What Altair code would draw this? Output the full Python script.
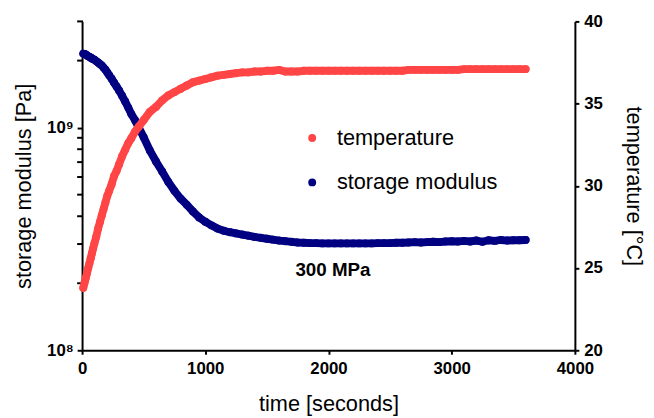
import altair as alt
import pandas as pd

RED = "#FF4545"
BLUE = "#000080"
FONT = "Liberation Sans"

time_s = [10, 20, 30, 40, 50, 60, 70, 80, 90, 100, 115, 130, 145, 160, 175, 190, 205, 220,
          240, 260, 280, 300, 325, 350, 375, 400, 430, 460, 500, 550, 600, 650, 700, 750,
          800, 850, 900, 950, 1000, 1050, 1100, 1150, 1200, 1250, 1300, 1350, 1400, 1450,
          1500, 1550, 1600, 1650, 1700, 1750, 1800, 1850, 1900, 1950, 2000, 2050, 2100,
          2150, 2200, 2250, 2300, 2350, 2400, 2450, 2500, 2550, 2600, 2650, 2700, 2750,
          2800, 2850, 2900, 2950, 3000, 3050, 3100, 3150, 3200, 3250, 3300, 3350, 3400,
          3450, 3500, 3550, 3600]

temperature_c = [23.8, 24.1, 24.4, 24.7, 25.0, 25.3, 25.6, 25.9, 26.2, 26.5, 26.9, 27.4, 27.8,
                 28.2, 28.6, 29.0, 29.4, 29.7, 30.1, 30.6, 30.9, 31.3, 31.8, 32.2, 32.6, 32.9,
                 33.3, 33.6, 34.0, 34.5, 34.8, 35.2, 35.5, 35.7, 35.9, 36.1, 36.3, 36.4, 36.5,
                 36.6, 36.7, 36.75, 36.8, 36.85, 36.9, 36.9, 36.95, 36.95, 37.0, 37.0, 37.05,
                 36.95, 36.95, 36.95, 37.0, 37.0, 37.0, 37.0, 37.0, 37.0, 37.0, 37.0, 37.0,
                 37.0, 37.0, 37.0, 37.0, 37.0, 37.0, 37.0, 37.0, 37.05, 37.05, 37.05, 37.05,
                 37.05, 37.05, 37.05, 37.05, 37.05, 37.1, 37.1, 37.1, 37.1, 37.1, 37.1, 37.1,
                 37.1, 37.1, 37.1, 37.1]

# storage modulus in units of 1e8 Pa
storage_e8 = [21.5, 21.4, 21.3, 21.1, 20.9, 20.8, 20.6, 20.5, 20.3, 20.2, 19.9, 19.6, 19.3,
              19.0, 18.6, 18.2, 17.7, 17.2, 16.6, 15.9, 15.3, 14.7, 13.9, 13.1, 12.3, 11.5,
              10.8, 10.0, 9.05, 7.9, 7.05, 6.35, 5.7, 5.2, 4.8, 4.5, 4.2, 3.95, 3.78, 3.64,
              3.52, 3.44, 3.39, 3.35, 3.31, 3.27, 3.23, 3.2, 3.17, 3.14, 3.11, 3.09, 3.07,
              3.05, 3.04, 3.03, 3.03, 3.02, 3.02, 3.02, 3.02, 3.02, 3.02, 3.02, 3.02, 3.02,
              3.03, 3.03, 3.03, 3.04, 3.04, 3.05, 3.06, 3.05, 3.06, 3.07, 3.06, 3.08, 3.09,
              3.08, 3.10, 3.08, 3.11, 3.07, 3.12, 3.10, 3.13, 3.11, 3.12, 3.12, 3.13]

series_names = ["temperature", "storage modulus"]
note_text = ["300 MPa"]
note_time = [2036]
note_value = [2.3e8]

major_ticks = [1e8, 1e9]
minor_ticks = [2e8, 3e8, 4e8, 5e8, 6e8, 7e8, 8e8, 9e8, 2e9, 3e9]
right_ticks = [20, 25, 30, 35, 40]
x_ticks = [0, 1000, 2000, 3000, 4000]

df = pd.DataFrame({
    "time": time_s,
    "temp": temperature_c,
    "G": [v * 1e8 for v in storage_e8],
})
df_red = df.assign(series=series_names[0])
df_blue = df.assign(series=series_names[1])
notes = pd.DataFrame({"time": note_time, "G": note_value, "text": note_text})
minor_df = pd.DataFrame({"G": minor_ticks})

color = alt.Color(
    "series:N",
    scale=alt.Scale(domain=series_names, range=[RED, BLUE]),
    legend=alt.Legend(
        title=None, orient="none", legendX=222, legendY=107,
        symbolType="circle", symbolSize=64, symbolStrokeWidth=0,
        labelFontSize=22, labelFont=FONT, labelColor="black", labelLimit=0,
        labelOffset=14, rowPadding=23, padding=0,
    ),
)

x = alt.X(
    "time:Q",
    scale=alt.Scale(domain=[0, 4000], nice=False, zero=False),
    axis=alt.Axis(values=x_ticks, title="time [seconds]", tickSize=4, labelPadding=7,
                  titleX=249.5, titleY=54, titleBaseline="middle", format="d"),
)

yG = alt.Y(
    "G:Q",
    scale=alt.Scale(type="log", domain=[1e8, 3e9], nice=False),
    axis=alt.Axis(values=major_ticks, orient="left", title="storage modulus [Pa]",
                  tickSize=5, labelPadding=4,
                  labelExpr="datum.value == 1e8 ? '10⁸' : '10⁹'",
                  titleX=-59, titleY=166.5, titleBaseline="middle", titleAngle=-90),
)

yT = alt.Y(
    "temp:Q",
    scale=alt.Scale(domain=[20, 40], nice=False, zero=False),
    axis=alt.Axis(values=right_ticks, orient="right", title="temperature [°C]",
                  tickSize=4, labelPadding=5,
                  titleX=59, titleY=166.5, titleBaseline="middle", titleAngle=90),
)

# minor ticks of the log axis, placed through the same log scale
minor = alt.Chart(minor_df).mark_rule(color="black", strokeWidth=2, clip=False).encode(
    y=yG, x=alt.value(-5), x2=alt.value(1),
)

blue_line = alt.Chart(df_blue).mark_line(color=BLUE, strokeWidth=8, strokeCap="round").encode(x=x, y=yG)
blue_pts = alt.Chart(df_blue).mark_circle(size=64, opacity=1).encode(x=x, y=yG, color=color)
note = alt.Chart(notes).mark_text(font=FONT, fontWeight="bold", fontSize=19, color="black").encode(
    x=x, y=yG, text="text:N")
blue = alt.layer(blue_line, blue_pts, note, minor)

red_line = alt.Chart(df_red).mark_line(color=RED, strokeWidth=8, strokeCap="round").encode(x=x, y=yT)
red_pts = alt.Chart(df_red).mark_circle(size=64, opacity=1).encode(x=x, y=yT, color=color)
red = alt.layer(red_line, red_pts)

chart = alt.layer(blue, red).resolve_scale(y="independent").properties(
    width=499, height=333, autosize="none",
    padding={"left": 75, "top": 11, "right": 72, "bottom": 66},
).configure_view(stroke=None).configure_axis(
    domainColor="black", domainWidth=2, tickColor="black", tickWidth=2,
    labelFont=FONT, labelFontWeight="bold", labelFontSize=17, labelColor="black",
    titleFont=FONT, titleFontWeight="normal", titleFontSize=22, titleColor="black",
    grid=False, labelFlush=False, labelOverlap=False,
)

chart.save("out.html", embed_options={"renderer": "svg", "actions": False})
